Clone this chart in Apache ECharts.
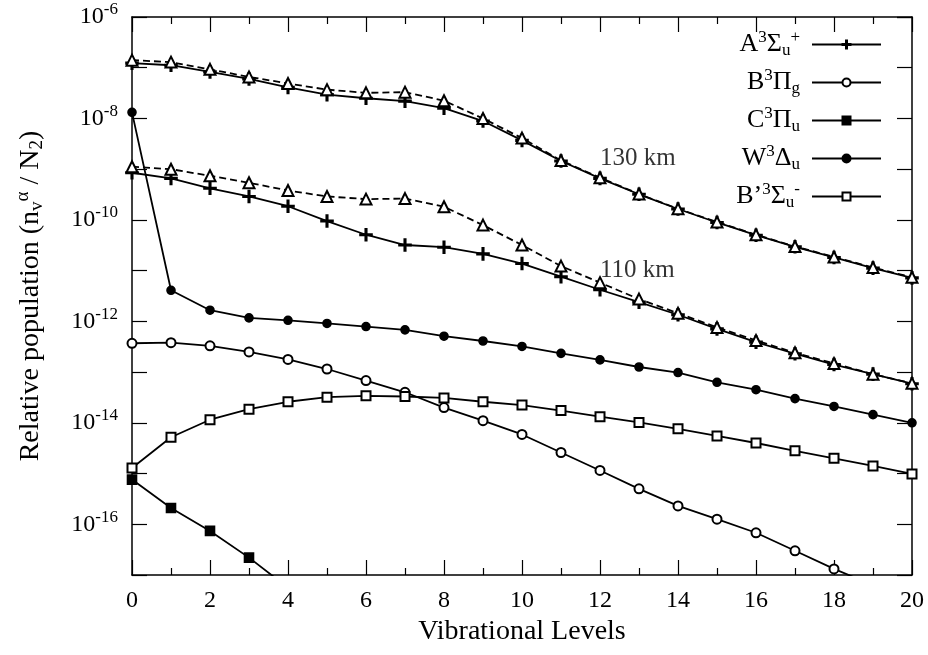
<!DOCTYPE html>
<html>
<head>
<meta charset="utf-8">
<script src="https://cdn.jsdelivr.net/npm/echarts@6/dist/echarts.min.js"></script>
<style>
html, body { margin: 0; padding: 0; background: #fff; }
#chart { width: 928px; height: 655px; }
</style>
</head>
<body>
<div id="chart"></div>
<script>
// vibrational levels v = 0..20
var levels = [0, 1, 2, 3, 4, 5, 6, 7, 8, 9, 10, 11, 12, 13, 14, 15, 16, 17, 18, 19, 20];

// A3Σu+ at 130 km and 110 km (solid, +)
var a130 = [1.23e-7, 1.12e-7, 8.3e-8, 6.0e-8, 4.1e-8, 2.95e-8, 2.5e-8, 2.2e-8, 1.6e-8, 8.9e-9, 3.7e-9,
            1.45e-9, 6.6e-10, 3.2e-10, 1.64e-10, 8.9e-11, 5.0e-11, 2.95e-11, 1.82e-11, 1.12e-11, 7.2e-12];
var a110 = [8.5e-10, 6.6e-10, 4.2e-10, 2.9e-10, 1.86e-10, 9.5e-11, 5.1e-11, 3.2e-11, 2.9e-11, 2.14e-11, 1.38e-11,
            7.6e-12, 4.2e-12, 2.4e-12, 1.35e-12, 7.1e-13, 3.9e-13, 2.3e-13, 1.41e-13, 9.1e-14, 5.9e-14];
// dashed curves with triangles (no key entry)
var tri130 = [1.41e-7, 1.29e-7, 9.3e-8, 6.6e-8, 4.9e-8, 3.7e-8, 3.2e-8, 3.3e-8, 2.24e-8, 1.0e-8, 4.1e-9,
              1.48e-9, 6.8e-10, 3.24e-10, 1.66e-10, 9.1e-11, 5.1e-11, 3.0e-11, 1.86e-11, 1.15e-11, 7.4e-12];
var tri110 = [1.12e-9, 1.0e-9, 7.4e-10, 5.4e-10, 3.8e-10, 2.9e-10, 2.57e-10, 2.63e-10, 1.82e-10, 7.9e-11, 3.2e-11,
              1.23e-11, 5.8e-12, 2.75e-12, 1.45e-12, 7.6e-13, 4.2e-13, 2.4e-13, 1.48e-13, 9.1e-14, 6.0e-14];
// other states
var bPi = [3.7e-13, 3.8e-13, 3.3e-13, 2.5e-13, 1.78e-13, 1.15e-13, 6.8e-14, 4.0e-14, 2.0e-14, 1.1e-14, 5.9e-15,
           2.6e-15, 1.15e-15, 5.0e-16, 2.3e-16, 1.26e-16, 6.8e-17, 3.0e-17, 1.32e-17, 6.3e-18, 3.2e-18];
var cPi = [7.6e-16, 2.1e-16, 7.4e-17, 2.2e-17, 5.6e-18];
var wDelta = [1.32e-8, 4.1e-12, 1.66e-12, 1.17e-12, 1.05e-12, 9.1e-13, 7.9e-13, 6.8e-13, 5.1e-13, 4.1e-13, 3.2e-13,
              2.34e-13, 1.74e-13, 1.26e-13, 9.8e-14, 6.3e-14, 4.5e-14, 3.0e-14, 2.1e-14, 1.45e-14, 1.0e-14];
var bPrime = [1.29e-15, 5.2e-15, 1.15e-14, 1.86e-14, 2.6e-14, 3.2e-14, 3.4e-14, 3.3e-14, 3.1e-14, 2.6e-14, 2.24e-14,
              1.74e-14, 1.32e-14, 1.02e-14, 7.6e-15, 5.5e-15, 4.0e-15, 2.8e-15, 2.0e-15, 1.41e-15, 9.8e-16];

var stateNames = ['A', 'B', 'C', 'W', 'Bp'];
var stateLabels = {
    A: 'A{sup|3}Σ{sub|u}{sup|+}',
    B: 'B{sup|3}Π{sub|g}',
    C: 'C{sup|3}Π{sub|u}',
    W: 'W{sup|3}Δ{sub|u}',
    Bp: 'B\u2019{sup|3}Σ{sub|u}{sup|-}'
};
// altitude notes: [v, value, text]
var altitudeNotes = [[12, 1.6e-9, '130 km'], [12, 1.0e-11, '110 km']];

var FONT = 'Liberation Serif';
var plusPath = 'path://M5.25,0H6.75V5.25H12V6.75H6.75V12H5.25V6.75H0V5.25H5.25Z';

function pairs(vals) {
    return vals.map(function (v, i) { return [levels[i], v]; });
}

function lineSeries(name, vals, symbol, size, dashed) {
    return {
        name: name,
        type: 'line',
        data: pairs(vals),
        symbol: symbol,
        symbolSize: size,
        showAllSymbol: true,
        clip: true,
        lineStyle: { color: '#000', width: 1.8, type: dashed ? [7, 4] : 'solid' },
        itemStyle: { color: '#000', borderColor: '#000', borderWidth: 1.6 },
        emphasis: { disabled: true },
        animation: false
    };
}

// only every second decade gets a label
function expLabel(value) {
    var e = Math.round(Math.log(value) / Math.LN10);
    if (e % 2 !== 0) return '';
    return '10{sup|' + e + '}';
}

var supSub = {
    sup: { fontFamily: FONT, fontSize: 17, color: '#000', padding: [0, 0, 14, 0] },
    sub: { fontFamily: FONT, fontSize: 17, color: '#000', padding: [12, 0, 0, 0] }
};
var nameSupSub = {
    sup: { fontFamily: FONT, fontSize: 19, color: '#000', padding: [0, 0, 15, 0] },
    sub: { fontFamily: FONT, fontSize: 19, color: '#000', padding: [13, 0, 0, 0] }
};

function xAxisDef(pos) {
    return {
        type: 'value', min: 0, max: 20, interval: 2, position: pos,
        axisLine: { onZero: false, lineStyle: { color: '#000', width: 1.5 } },
        axisTick: { inside: true, length: 15, lineStyle: { color: '#000', width: 1.2 } },
        minorTick: { show: true, splitNumber: 2, length: 7, lineStyle: { color: '#000', width: 1.2 } },
        splitLine: { show: false }
    };
}
function yAxisDef(pos) {
    return {
        type: 'log', logBase: 10, min: 1e-17, max: 1e-6, interval: 1, position: pos,
        axisLine: { onZero: false, lineStyle: { color: '#000', width: 1.5 } },
        axisTick: { inside: true, length: 15, lineStyle: { color: '#000', width: 1.2 } },
        splitLine: { show: false }
    };
}

var xBottom = xAxisDef('bottom');
xBottom.name = 'Vibrational Levels';
xBottom.nameLocation = 'middle';
xBottom.nameGap = 43;
xBottom.nameTextStyle = { fontFamily: FONT, fontSize: 28, color: '#000' };
xBottom.axisLabel = { fontFamily: FONT, fontSize: 24, color: '#000', margin: 14 };
var xTop = xAxisDef('top');
xTop.axisLabel = { show: false };

var yLeft = yAxisDef('left');
yLeft.name = 'Relative population (n{sub|v}{sup|α} / N{sub|2})';
yLeft.nameLocation = 'middle';
yLeft.nameRotate = 90;
yLeft.nameGap = 84;
yLeft.nameTextStyle = { fontFamily: FONT, fontSize: 28, color: '#000', rich: nameSupSub };
yLeft.axisLabel = { fontFamily: FONT, fontSize: 24, color: '#000', margin: 14, formatter: expLabel, rich: supSub };
var yRight = yAxisDef('right');
yRight.axisLabel = { show: false };

var option = {
    backgroundColor: '#fff',
    animation: false,
    grid: { left: 132, right: 16, top: 17, bottom: 80 },
    xAxis: [xBottom, xTop],
    yAxis: [yLeft, yRight],
    legend: {
        data: stateNames,
        orient: 'vertical',
        right: 41,
        top: 24,
        align: 'right',
        itemWidth: 69,
        itemHeight: 10,
        itemGap: 8,
        selectedMode: false,
        formatter: function (name) { return stateLabels[name]; },
        textStyle: { fontFamily: FONT, fontSize: 26, color: '#000', padding: [0, 7, 0, 0], rich: supSub }
    },
    series: [
        lineSeries('A', a130, plusPath, 12, false),
        lineSeries('A', a110, plusPath, 12, false),
        lineSeries('tri130', tri130, 'emptyTriangle', 11, true),
        lineSeries('tri110', tri110, 'emptyTriangle', 11, true),
        lineSeries('B', bPi, 'emptyCircle', 9, false),
        lineSeries('C', cPi, 'rect', 9, false),
        lineSeries('W', wDelta, 'circle', 8, false),
        lineSeries('Bp', bPrime, 'emptyRect', 9, false),
        {
            name: 'notes',
            type: 'scatter',
            symbolSize: 0,
            silent: true,
            data: altitudeNotes,
            label: {
                show: true,
                position: 'right',
                distance: 0,
                fontFamily: FONT,
                fontSize: 25,
                color: '#000',
                formatter: function (p) { return p.value[2]; }
            }
        }
    ]
};

var chart = echarts.init(document.getElementById('chart'));
chart.setOption(option);
</script>
</body>
</html>
